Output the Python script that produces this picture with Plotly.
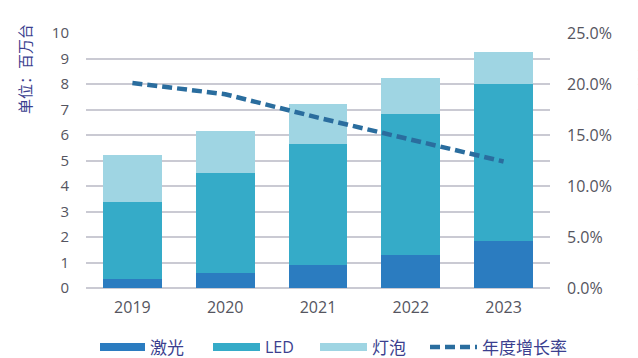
import plotly.graph_objects as go

# Data (units: million sets; growth rate as fraction)
years = ["2019", "2020", "2021", "2022", "2023"]
laser = [0.37, 0.59, 0.89, 1.29, 1.84]
led = [3.01, 3.91, 4.76, 5.53, 6.15]
bulb = [1.84, 1.67, 1.55, 1.43, 1.28]
growth = [0.201, 0.190, 0.167, 0.145, 0.124]

series_names = ["激光", "LED", "灯泡", "年度增长率"]
c_laser = "#2b7cc0"
c_led = "#35abc8"
c_bulb = "#9fd5e3"
c_line = "#2a6d9e"
c_grid = "#cacad3"
c_tick = "#555560"
c_title = "#3b3f8f"

W, H = 638, 358
L, R, T, B = 86, 88, 33, 70
PW, PH = W - L - R, H - T - B


def px(x):
    return (x - L) / PW


def py(y):
    return (H - B - y) / PH


fig = go.Figure()
for vals, col, nm in [(laser, c_laser, series_names[0]),
                      (led, c_led, series_names[1]),
                      (bulb, c_bulb, series_names[2])]:
    fig.add_trace(go.Bar(x=years, y=vals, name=nm, marker=dict(color=col, line=dict(width=0)),
                         showlegend=False))

fig.add_trace(go.Scatter(x=years, y=growth, name=series_names[3], yaxis="y2", mode="lines",
                         line=dict(color=c_line, width=4.5, dash="10px,5px"), showlegend=False))

font_main = "Open Sans, Noto Sans CJK SC, sans-serif"

fig.update_layout(
    width=W, height=H,
    margin=dict(l=L, r=R, t=T, b=B),
    paper_bgcolor="white", plot_bgcolor="white",
    barmode="stack", bargap=0.365,
    font=dict(family=font_main, color=c_tick),
    xaxis=dict(showgrid=False, showline=False, ticks="", tickfont=dict(size=16, color=c_tick),
               ticklabelstandoff=8, zeroline=False),
    yaxis=dict(range=[0, 10], dtick=1, showgrid=True, gridcolor=c_grid, gridwidth=2,
               zeroline=True, zerolinecolor=c_grid, zerolinewidth=2, showline=False, ticks="",
               tickfont=dict(size=15, color=c_tick), ticklabelstandoff=16),
    yaxis2=dict(range=[0, 0.25], dtick=0.05, tickformat=".1%", overlaying="y", side="right",
                showgrid=False, zeroline=False, showline=False, ticks="",
                tickfont=dict(size=16, color=c_tick), ticklabelstandoff=16),
)

annotations = [
    dict(text="单位：百万台", x=px(25), y=py(69), xref="paper", yref="paper", textangle=-90,
         xanchor="center", yanchor="middle",
         showarrow=False, font=dict(size=15, color=c_title, family=font_main)),
    dict(text="年度增长率", x=px(646), y=py(79), xref="paper", yref="paper", textangle=90,
         xanchor="center", yanchor="middle",
         showarrow=False, font=dict(size=15, color="#9a9ac4", family=font_main)),
]
shapes = []

legend_y = 347
items = [
    (100, 145, c_laser, series_names[0], 17, "bar"),
    (213, 260, c_led, series_names[1], 16, "bar"),
    (320, 367, c_bulb, series_names[2], 17, "bar"),
    (430, 477, c_line, series_names[3], 17, "line"),
]
for x0, x1, col, nm, fs, kind in items:
    if kind == "bar":
        shapes.append(dict(type="rect", xref="paper", yref="paper", x0=px(x0), x1=px(x1),
                           y0=py(legend_y + 4), y1=py(legend_y - 4), fillcolor=col,
                           line=dict(width=0)))
    else:
        shapes.append(dict(type="line", xref="paper", yref="paper", x0=px(x0), x1=px(x1),
                           y0=py(legend_y), y1=py(legend_y),
                           line=dict(color=col, width=4.5, dash="10px,5px")))
    annotations.append(dict(text=nm, x=px(x1 + 3), y=py(legend_y), xref="paper", yref="paper",
                            xanchor="left", yanchor="middle", showarrow=False,
                            font=dict(size=fs, color=c_title, family=font_main)))

fig.update_layout(annotations=annotations, shapes=shapes)

fig.write_html("out.html")
